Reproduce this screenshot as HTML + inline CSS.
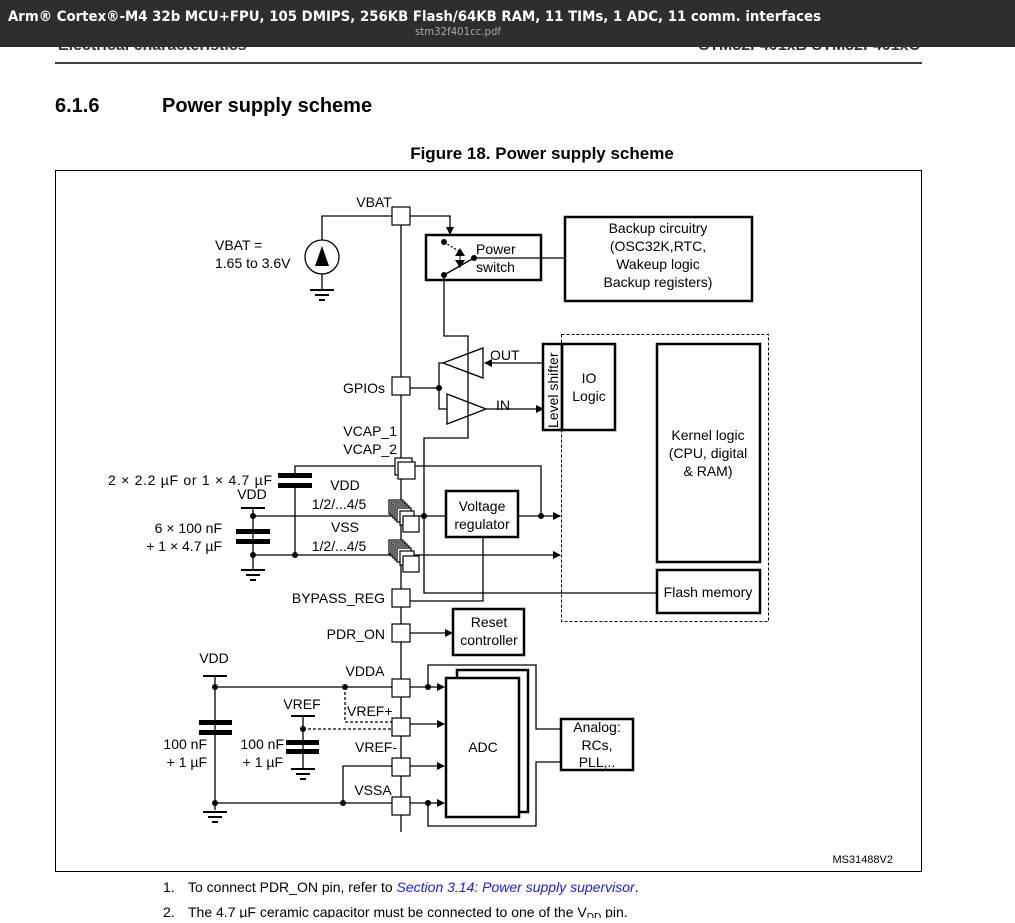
<!DOCTYPE html><html><head><meta charset="utf-8"><style>
body{margin:0;width:1015px;height:918px;overflow:hidden;background:#fff;font-family:"Liberation Sans",sans-serif}
</style></head><body>
<svg width="1015" height="918" viewBox="0 0 1015 918" xmlns="http://www.w3.org/2000/svg" font-family="Liberation Sans, sans-serif">
<defs><marker id="a" markerWidth="8" markerHeight="8" refX="7" refY="4" orient="auto" markerUnits="userSpaceOnUse"><path d="M0,0L8,4L0,8z" fill="#000"/></marker></defs>
<text x="58" y="50" font-size="16" font-weight="bold" fill="#333">Electrical characteristics</text>
<text x="920" y="50" font-size="16" font-weight="bold" fill="#333" text-anchor="end">STM32F401xB STM32F401xC</text>
<rect x="0" y="0" width="1015" height="47" fill="#2e2e2e"/>
<text x="8" y="21" font-size="14" font-weight="bold" fill="#fff" style="font-family:'DejaVu Sans',sans-serif" textLength="813" lengthAdjust="spacingAndGlyphs">Arm® Cortex®-M4 32b MCU+FPU, 105 DMIPS, 256KB Flash/64KB RAM, 11 TIMs, 1 ADC, 11 comm. interfaces</text>
<text x="415" y="35" font-size="11" fill="#aaa" style="font-family:'DejaVu Sans',sans-serif" textLength="86" lengthAdjust="spacingAndGlyphs">stm32f401cc.pdf</text>
<line x1="55" y1="63" x2="922" y2="63" stroke="#000" stroke-width="1.5"/>
<text x="55" y="112" font-size="20" font-weight="bold">6.1.6</text>
<text x="162" y="112" font-size="20" font-weight="bold">Power supply scheme</text>
<text x="542" y="159" font-size="17" font-weight="bold" text-anchor="middle">Figure 18. Power supply scheme</text>
<rect x="55.5" y="170.5" width="866" height="701" fill="none" stroke="#000"/>
<g fill="none" stroke="#000" stroke-width="1.3">
<line x1="401" y1="216" x2="401" y2="832"/>
<polyline points="322,240 322,216 392,216"/>
<polyline points="410,216 450,216 450,234" marker-end="url(#a)"/>
<circle cx="322" cy="257" r="17"/>
<line x1="322" y1="274" x2="322" y2="289"/>
<rect x="426" y="235" width="115" height="45" stroke-width="2.5"/>
<line x1="474" y1="258" x2="565" y2="258"/>
<line x1="444" y1="275" x2="474" y2="258"/>
<line x1="444" y1="242" x2="460" y2="252" stroke-dasharray="2,2"/>
<rect x="565" y="217" width="187" height="84" stroke-width="2.5"/>
<polyline points="444,275 444,336 468,336 468,438 424,438 424,593 657,593"/>
<polygon points="443,363 483,348 483,378"/>
<polygon points="486,409 447,394 447,424"/>
<polyline points="410,388 439,388"/>
<polyline points="443,363 439,363 439,409 447,409"/>
<line x1="543" y1="363" x2="485" y2="363" marker-end="url(#a)"/>
<line x1="486" y1="409" x2="543" y2="409" marker-end="url(#a)"/>
<rect x="543" y="344" width="19" height="86" stroke-width="2.5"/>
<rect x="562" y="344" width="53" height="86" stroke-width="2.5"/>
<rect x="561.5" y="334.5" width="207" height="287" stroke-dasharray="3,2" stroke-width="1"/>
<rect x="657" y="344" width="103" height="218" stroke-width="2.5"/>
<rect x="657" y="570" width="103" height="43" stroke-width="2.5"/>
<polyline points="295,476 295,466 395,466"/>
<polyline points="415,466 541,466 541,516"/>
<line x1="295" y1="485" x2="295" y2="555"/>
<line x1="253" y1="508" x2="253" y2="570"/>
<line x1="253" y1="516" x2="560" y2="516" marker-end="url(#a)"/>
<line x1="253" y1="555" x2="560" y2="555" marker-end="url(#a)"/>
<rect x="446" y="491" width="72" height="46" stroke-width="2.5" fill="#fff"/>
<polyline points="410,601 483,601 483,537"/>
<line x1="410" y1="633" x2="452" y2="633" marker-end="url(#a)"/>
<rect x="453" y="609" width="71" height="46" stroke-width="2.5"/>
<line x1="215" y1="676" x2="215" y2="810"/>
<line x1="215" y1="687" x2="392" y2="687"/>
<polyline points="345,687 345,722 392,722" stroke-dasharray="3,2"/>
<line x1="303" y1="729" x2="392" y2="729" stroke-dasharray="3,2"/>
<line x1="303" y1="716" x2="303" y2="768"/>
<polyline points="392,766 343,766 343,803"/>
<line x1="215" y1="803" x2="392" y2="803"/>
<line x1="410" y1="687" x2="444" y2="687" marker-end="url(#a)"/>
<line x1="410" y1="724" x2="444" y2="724" marker-end="url(#a)"/>
<line x1="410" y1="766" x2="444" y2="766" marker-end="url(#a)"/>
<line x1="410" y1="803" x2="444" y2="803" marker-end="url(#a)"/>
<polyline points="428,687 428,665 536,665 536,729 560,729" />
<polyline points="428,803 428,826 536,826 536,762 560,762"/>
<rect x="457" y="670" width="71" height="142" stroke-width="2.5"/>
<rect x="446" y="678" width="73" height="139" stroke-width="2.5" fill="#fff"/>
<rect x="561" y="719" width="72" height="51" stroke-width="2.5"/>
</g>
<g fill="#000">
<polygon points="322,246 315,266 329,266"/>
<polygon points="460,248 455,256 465,256"/><polygon points="460,268 455,260 465,260"/>
<line x1="460" y1="252" x2="460" y2="264" stroke="#000"/>
<circle cx="444" cy="242" r="3"/><circle cx="474" cy="258" r="3"/><circle cx="444" cy="275" r="3"/>
<circle cx="439" cy="388" r="3"/><circle cx="424" cy="516" r="3"/><circle cx="541" cy="516" r="3"/>
<circle cx="253" cy="516" r="3"/><circle cx="253" cy="555" r="3"/><circle cx="295" cy="555" r="3"/>
<circle cx="215" cy="687" r="3"/><circle cx="345" cy="687" r="3"/><circle cx="303" cy="729" r="3"/>
<circle cx="215" cy="803" r="3"/><circle cx="343" cy="803" r="3"/><circle cx="428" cy="687" r="3"/><circle cx="428" cy="803" r="3"/>
<rect x="278" y="473" width="34" height="5"/><rect x="278" y="483" width="34" height="5"/>
<rect x="236" y="529" width="34" height="5"/><rect x="236" y="539" width="34" height="5"/>
<rect x="199" y="720" width="33" height="5"/><rect x="199" y="730" width="33" height="5"/>
<rect x="286" y="740" width="33" height="5"/><rect x="286" y="749" width="33" height="5"/>
<rect x="241" y="507" width="24" height="2"/><rect x="203" y="675" width="24" height="2"/><rect x="291" y="715" width="24" height="2"/>
</g>
<g stroke="#000" stroke-width="2">
<path d="M310,290h24M315,295h14M319,300h6"/>
<path d="M241,570h24M246,575h14M250,580h6"/>
<path d="M203,812h24M208,817h14M212,822h6"/>
<path d="M291,769h24M296,774h14M300,779h6"/>
</g>
<g fill="#fff" stroke="#000" stroke-width="1.2">
<rect x="392" y="207" width="18" height="18"/>
<rect x="392" y="377" width="18" height="18"/>
<rect x="395" y="458" width="17" height="17"/><rect x="398" y="462" width="17" height="17"/>
<rect x="389" y="500" width="14" height="14"/><rect x="391" y="502" width="14" height="14"/><rect x="393" y="504" width="14" height="14"/><rect x="395" y="506" width="14" height="14"/><rect x="397" y="508" width="14" height="14"/><rect x="400" y="511" width="14" height="14"/><rect x="403" y="516" width="16" height="16"/>
<rect x="389" y="540" width="14" height="14"/><rect x="391" y="542" width="14" height="14"/><rect x="393" y="544" width="14" height="14"/><rect x="395" y="546" width="14" height="14"/><rect x="397" y="548" width="14" height="14"/><rect x="400" y="551" width="14" height="14"/><rect x="403" y="556" width="16" height="16"/>
<rect x="392" y="589" width="18" height="18"/>
<rect x="392" y="624" width="18" height="18"/>
<rect x="392" y="679" width="18" height="18"/>
<rect x="392" y="718" width="18" height="18"/>
<rect x="392" y="758" width="18" height="18"/>
<rect x="392" y="797" width="18" height="18"/>
</g>
<g font-size="14" fill="#000">
<text x="374" y="207" text-anchor="middle">VBAT</text>
<text x="215" y="250">VBAT =</text><text x="215" y="268">1.65 to 3.6V</text>
<text x="476" y="254">Power</text><text x="476" y="272">switch</text>
<g text-anchor="middle"><text x="658" y="233">Backup circuitry</text><text x="658" y="251">(OSC32K,RTC,</text><text x="658" y="269">Wakeup logic</text><text x="658" y="287">Backup registers)</text></g>
<text x="490" y="360">OUT</text><text x="496" y="410">IN</text>
<text transform="translate(558,428) rotate(-90)" font-size="14">Level shifter</text>
<text x="589" y="383" text-anchor="middle">IO</text><text x="589" y="401" text-anchor="middle">Logic</text>
<g text-anchor="middle"><text x="708" y="440">Kernel logic</text><text x="708" y="458">(CPU, digital</text><text x="708" y="476">&amp; RAM)</text><text x="708" y="597">Flash memory</text></g>
<text x="385" y="393" text-anchor="end">GPIOs</text>
<text x="397" y="436" text-anchor="end">VCAP_1</text><text x="397" y="454" text-anchor="end">VCAP_2</text>
<text x="108" y="485" textLength="164" lengthAdjust="spacing">2 × 2.2 µF  or  1 × 4.7 µF</text>
<text x="252" y="499" text-anchor="middle">VDD</text>
<text x="222" y="533" text-anchor="end">6 × 100 nF</text><text x="222" y="551" text-anchor="end">+ 1 × 4.7 µF</text>
<text x="345" y="490" text-anchor="middle">VDD</text><text x="339" y="509" text-anchor="middle">1/2/...4/5</text>
<text x="345" y="532" text-anchor="middle">VSS</text><text x="339" y="551" text-anchor="middle">1/2/...4/5</text>
<text x="482" y="511" text-anchor="middle">Voltage</text><text x="482" y="529" text-anchor="middle">regulator</text>
<text x="385" y="603" text-anchor="end">BYPASS_REG</text>
<text x="385" y="639" text-anchor="end">PDR_ON</text>
<text x="489" y="627" text-anchor="middle">Reset</text><text x="489" y="645" text-anchor="middle">controller</text>
<text x="214" y="663" text-anchor="middle">VDD</text>
<text x="365" y="676" text-anchor="middle">VDDA</text>
<text x="302" y="709" text-anchor="middle">VREF</text>
<text x="347" y="716">VREF+</text>
<text x="376" y="752" text-anchor="middle">VREF-</text>
<text x="373" y="795" text-anchor="middle">VSSA</text>
<text x="207" y="749" text-anchor="end">100 nF</text><text x="207" y="767" text-anchor="end">+ 1 µF</text>
<text x="284" y="749" text-anchor="end">100 nF</text><text x="283" y="767" text-anchor="end">+ 1 µF</text>
<text x="483" y="752" text-anchor="middle">ADC</text>
<text x="597" y="732" text-anchor="middle">Analog:</text><text x="597" y="750" text-anchor="middle">RCs,</text><text x="597" y="767" text-anchor="middle">PLL,..</text>
</g>
<text x="893" y="863" font-size="11" text-anchor="end">MS31488V2</text>
<text x="163" y="892" font-size="14">1.</text>
<text x="188" y="892" font-size="14">To connect PDR_ON pin, refer to <tspan fill="#1a1aff" font-style="italic">Section 3.14: Power supply supervisor</tspan>.</text>
<text x="163" y="917" font-size="14">2.</text>
<text x="188" y="917" font-size="14">The 4.7 µF ceramic capacitor must be connected to one of the V<tspan font-size="10" dy="3">DD</tspan><tspan dy="-3"> pin.</tspan></text>
</svg>
</body></html>
